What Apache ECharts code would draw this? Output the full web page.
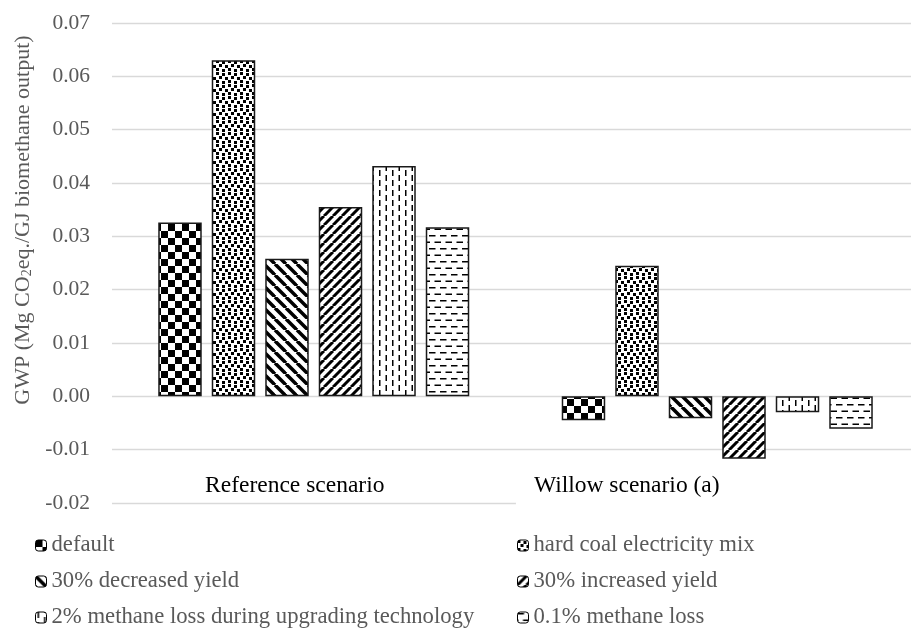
<!DOCTYPE html>
<html>
<head>
<meta charset="utf-8">
<title>GWP</title>
<script src="https://cdn.jsdelivr.net/npm/echarts@6/dist/echarts.min.js"></script>
<style>
html,body{margin:0;padding:0;background:#fff;}
#main{width:911px;height:629px;}
</style>
</head>
<body>
<div id="main"></div>
<script>
// 数据
var categories = ['Reference scenario', 'Willow scenario (a)'];
var seriesNames = ['default', 'hard coal electricity mix', '30% decreased yield', '30% increased yield',
    '2% methane loss during upgrading technology', '0.1% methane loss'];
var defaultVals = [0.0326, -0.0045];
var hardCoalVals = [0.0630, 0.0245];
var decreasedYieldVals = [0.0258, -0.0041];
var increasedYieldVals = [0.0355, -0.0117];
var loss2Vals = [0.0432, -0.0030];
var loss01Vals = [0.0317, -0.0061];
var yMin = -0.02, yMax = 0.07, yStep = 0.01;

var serif = '"Liberation Serif", "Times New Roman", serif';

// 填充图案
function makeTile(w, h, draw) {
    var c = document.createElement('canvas');
    c.width = w;
    c.height = h;
    var ctx = c.getContext('2d');
    ctx.fillStyle = '#fff';
    ctx.fillRect(0, 0, w, h);
    ctx.fillStyle = '#000';
    ctx.strokeStyle = '#000';
    draw(ctx, w, h);
    return {image: c, repeat: 'repeat'};
}
function diag(ctx, w, h, down) {
    for (var k = -1; k <= 1; k++) {
        ctx.beginPath();
        if (down) {
            ctx.moveTo(k * w, 0);
            ctx.lineTo(k * w + w, h);
        } else {
            ctx.moveTo(k * w, h);
            ctx.lineTo(k * w + w, 0);
        }
        ctx.stroke();
    }
}
var patterns = [
    makeTile(14, 14, function (ctx) {
        ctx.fillRect(0, 0, 7, 7);
        ctx.fillRect(7, 7, 7, 7);
    }),
    makeTile(12, 12, function (ctx) {
        [[0, 0], [6, 1], [3, 4], [9, 5], [0, 8], [6, 9]].forEach(function (p) {
            ctx.fillRect(p[0], p[1], 3, 3);
        });
    }),
    makeTile(11, 11, function (ctx, w, h) {
        ctx.lineWidth = 3.5;
        diag(ctx, w, h, true);
    }),
    makeTile(9, 9, function (ctx, w, h) {
        ctx.lineWidth = 3;
        diag(ctx, w, h, false);
    }),
    makeTile(13, 10, function (ctx) {
        ctx.fillRect(2, 0, 1.5, 6);
        ctx.fillRect(8.5, 5, 1.5, 5);
        ctx.fillRect(8.5, 0, 1.5, 1);
    }),
    makeTile(11, 13, function (ctx) {
        ctx.fillRect(0, 1, 6.5, 1.5);
        ctx.fillRect(5.5, 7.5, 5.5, 1.5);
        ctx.fillRect(0, 7.5, 1, 1.5);
    })
];

var valueLists = [defaultVals, hardCoalVals, decreasedYieldVals, increasedYieldVals, loss2Vals, loss01Vals];
var series = [];
for (var i = 0; i < seriesNames.length; i++) {
    series.push({
        name: seriesNames[i],
        type: 'bar',
        data: valueLists[i],
        barWidth: 43.5,
        barGap: '23%',
        itemStyle: {color: patterns[i], borderColor: '#1a1a1a', borderWidth: 1.5}
    });
}

var legendText = {color: '#595959', fontSize: 22.7, lineHeight: 22, fontFamily: serif};

var myChart = echarts.init(document.getElementById('main'));
option = {
    animation: false,
    backgroundColor: '#fff',
    grid: {
        left: 112,
        right: -8,
        top: 23,
        bottom: 126,
        containLabel: false,
        outerBoundsMode: 'none'
    },
    legend: [{
        data: [seriesNames[0], seriesNames[2], seriesNames[4]],
        orient: 'vertical',
        left: 35,
        top: 534,
        height: 140,
        padding: 0,
        itemWidth: 11,
        itemHeight: 11,
        itemGap: 13,
        selectedMode: false,
        itemStyle: {borderColor: '#000', borderWidth: 1},
        textStyle: legendText
    }, {
        data: [seriesNames[1], seriesNames[3], seriesNames[5]],
        orient: 'vertical',
        left: 517,
        top: 534,
        height: 140,
        padding: 0,
        itemWidth: 11,
        itemHeight: 11,
        itemGap: 13,
        selectedMode: false,
        itemStyle: {borderColor: '#000', borderWidth: 1},
        textStyle: legendText
    }],
    xAxis: {
        type: 'category',
        data: categories,
        axisLine: {show: false},
        axisTick: {show: false},
        splitLine: {show: false},
        axisLabel: {
            interval: 0,
            margin: -37.5,
            formatter: function (v, idx) {
                return '{c' + idx + '|' + v + '}';
            },
            rich: {
                c0: {fontSize: 23.5, fontFamily: serif, color: '#000', padding: [8, 38, 12, 0]},
                c1: {fontSize: 23.5, fontFamily: serif, color: '#000', backgroundColor: '#fff', padding: [8, 199, 12, 18]}
            }
        }
    },
    yAxis: {
        type: 'value',
        min: yMin,
        max: yMax,
        interval: yStep,
        axisLine: {show: false},
        axisTick: {show: false},
        splitLine: {lineStyle: {color: '#d9d9d9', width: 1.3}},
        axisLabel: {
            margin: 22,
            color: '#595959',
            fontSize: 21.5,
            fontFamily: serif,
            formatter: function (v) {
                return v.toFixed(2);
            }
        },
        name: '{t|GWP (Mg CO}{sub|2}{t|eq./GJ biomethane output)}',
        nameLocation: 'middle',
        nameRotate: 90,
        nameGap: 72,
        nameTextStyle: {
            padding: [0, 0, 0, 86],
            rich: {
                t: {color: '#595959', fontSize: 22, lineHeight: 24, fontFamily: serif, verticalAlign: 'bottom'},
                sub: {color: '#595959', fontSize: 14, lineHeight: 14, fontFamily: serif, verticalAlign: 'bottom'}
            }
        }
    },
    series: series
};
myChart.setOption(option, true);
</script>
</body>
</html>
